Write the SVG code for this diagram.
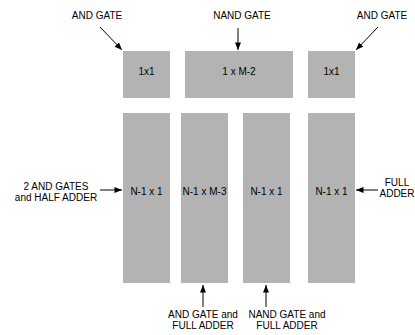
<svg xmlns="http://www.w3.org/2000/svg" width="415" height="335" viewBox="0 0 415 335">
<defs>
<marker id="ah" viewBox="0 0 10 8" refX="10" refY="4" markerWidth="8" markerHeight="6" orient="auto" markerUnits="userSpaceOnUse">
<path d="M0,0 L10,4 L0,8 z" fill="#000"/>
</marker>
<style>
.box{fill:#b3b3b3}
text{font-family:"Liberation Sans",Arial,sans-serif;font-size:10px;fill:#000;text-anchor:middle}
.c{stroke:#000;stroke-width:1;fill:none;marker-end:url(#ah)}
</style>
</defs>
<rect width="415" height="335" fill="#fff"/>
<g id="top-and-left"><rect class="box" x="123" y="51" width="47" height="47"/><text x="146.5" y="75">1x1</text></g>
<g id="top-nand"><rect class="box" x="185" y="51" width="108" height="47"/><text x="239" y="75">1 x M-2</text></g>
<g id="top-and-right"><rect class="box" x="308" y="51" width="47" height="47"/><text x="331.5" y="75">1x1</text></g>
<g id="col1"><rect class="box" x="123" y="113" width="47" height="170"/><text x="146.5" y="195">N-1 x 1</text></g>
<g id="col2"><rect class="box" x="181" y="113" width="47" height="170"/><text x="204.5" y="195">N-1 x M-3</text></g>
<g id="col3"><rect class="box" x="243" y="113" width="47" height="170"/><text x="266.5" y="195">N-1 x 1</text></g>
<g id="col4"><rect class="box" x="308" y="113" width="47" height="170"/><text x="331.5" y="195">N-1 x 1</text></g>
<g id="labels">
<text x="97" y="19">AND GATE</text>
<text x="242" y="19">NAND GATE</text>
<text x="382" y="19">AND GATE</text>
<text x="56" y="190">2 AND GATES</text>
<text x="56" y="200.5">and HALF ADDER</text>
<text x="397" y="186">FULL</text>
<text x="397" y="197">ADDER</text>
<text x="203" y="318">AND GATE and</text>
<text x="203" y="329">FULL ADDER</text>
<text x="287" y="318">NAND GATE and</text>
<text x="287" y="329">FULL ADDER</text>
</g>
<g id="connectors">
<line class="c" x1="100" y1="27" x2="122" y2="50"/>
<line class="c" x1="238" y1="28" x2="238" y2="50"/>
<line class="c" x1="378" y1="27" x2="356" y2="50"/>
<line class="c" x1="100" y1="190" x2="122" y2="190"/>
<line class="c" x1="378" y1="190" x2="356" y2="190"/>
<line class="c" x1="203" y1="307" x2="203" y2="285"/>
<line class="c" x1="266" y1="307" x2="266" y2="285"/>
</g>
</svg>
